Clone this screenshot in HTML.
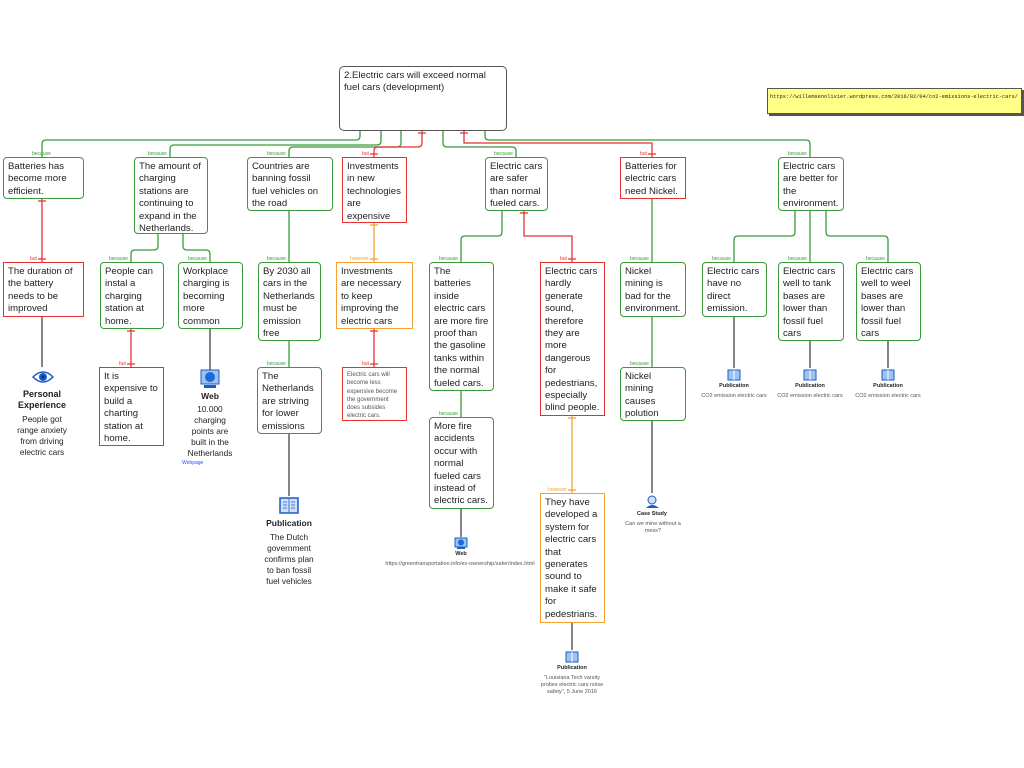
<!DOCTYPE html>
<html><head><meta charset="utf-8">
<style>
*{margin:0;padding:0;box-sizing:border-box}
body{width:1024px;height:768px;background:#fff;position:relative;overflow:hidden;font-family:"Liberation Sans",sans-serif;color:#222}
.b{position:absolute;background:#fff;font-size:9.6px;line-height:12.4px;padding:3px 4px;border:1.5px solid #3a9a3a;border-radius:4px}
.g{border-color:#3a9a3a}
.r{border-color:#e83030;border-radius:0}
.o{border-color:#f5a030;border-radius:0}
.lb{position:absolute;font-size:5px;line-height:6px}
.lg{color:#3a9a3a}.lr{color:#e83030}.lo{color:#f5a030}
.t{position:absolute;text-align:center;font-size:8.3px;line-height:11px;color:#222}
.tb{font-weight:bold}
.s{font-size:5.5px;line-height:7px;color:#555}
</style></head><body>
<svg width="1024" height="768" style="position:absolute;left:0;top:0" fill="none" stroke-width="1.3">
<g stroke="#3a9a3a">
<path d="M360 130 V136 Q360 140 356 140 H46 Q42 140 42 144 V157"/>
<path d="M381 130 V141 Q381 145 377 145 H174 Q170 145 170 149 V157"/>
<path d="M401 130 V143 Q401 147 397 147 H293 Q289 147 289 151 V157"/>
<path d="M443 130 V143 Q443 147 447 147 H512 Q516 147 516 151 V157"/>
<path d="M485 130 V136 Q485 140 489 140 H806 Q810 140 810 144 V157"/>
<path d="M158 233 V246 Q158 250 154 250 H135 Q131 250 131 254 V262"/>
<path d="M183 233 V246 Q183 250 187 250 H206 Q210 250 210 254 V262"/>
<path d="M289 210 V262"/>
<path d="M502 210 V232 Q502 236 498 236 H465 Q461 236 461 240 V262"/>
<path d="M652 198 V262"/>
<path d="M795 210 V232 Q795 236 791 236 H738 Q734 236 734 240 V262"/>
<path d="M810 210 V262"/>
<path d="M826 210 V232 Q826 236 830 236 H884 Q888 236 888 240 V262"/>
<path d="M289 340 V367"/>
<path d="M461 390 V417"/>
<path d="M652 316 V367"/>
</g>
<g stroke="#e83030">
<path d="M422 130 V143 Q422 147 418 147 H378 Q374 147 374 151 V157"/><path d="M418 133 H426 M370 154 H378"/>
<path d="M464 130 V143 H652 V157"/><path d="M460 133 H468 M648 154 H656"/>
<path d="M42 198 V262"/><path d="M38 201 H46 M38 259 H46"/>
<path d="M131 328 V367"/><path d="M127 331 H135 M127 364 H135"/>
<path d="M374 328 V367"/><path d="M370 331 H378 M370 364 H378"/>
<path d="M524 210 V236 H572 V262"/><path d="M520 213 H528 M568 259 H576"/>
</g>
<g stroke="#f5a030">
<path d="M374 222 V262"/><path d="M370 225 H378 M370 259 H378"/>
<path d="M572 415 V493"/><path d="M568 418 H576 M568 490 H576"/>
</g>
<g stroke="#444">
<path d="M42 316 V367 M210 328 V370 M289 433 V496 M461 508 V537 M572 622 V650 M652 420 V493 M734 316 V368 M810 340 V368 M888 340 V368"/>
</g>
</svg>

<div class="b" style="left:339px;top:66px;width:168px;height:65px;border:1.5px solid #555;border-radius:5px;padding:3px 4px">2.Electric cars will exceed normal fuel cars (development)</div>
<div style="position:absolute;left:767px;top:88px;width:255px;height:26px;background:#ffff88;border:1px solid #555;box-shadow:2px 2px 0 #555;font-family:'Liberation Mono',monospace;font-size:5.3px;white-space:nowrap;overflow:hidden;padding:5px 2px">https://willemsenolivier.wordpress.com/2016/02/04/co2-emissions-electric-cars/</div>

<div class="b g" style="left:3px;top:157px;width:81px;height:42px">Batteries has become more efficient.</div>
<div class="b g" style="left:134px;top:157px;width:74px;height:77px">The amount of charging stations are continuing to expand in the Netherlands.</div>
<div class="b g" style="left:247px;top:157px;width:86px;height:54px">Countries are banning fossil fuel vehicles on the road</div>
<div class="b r" style="left:342px;top:157px;width:65px;height:66px">Investments in new technologies are expensive</div>
<div class="b g" style="left:485px;top:157px;width:63px;height:54px">Electric cars are safer than normal fueled cars.</div>
<div class="b r" style="left:620px;top:157px;width:66px;height:42px">Batteries for electric cars need Nickel.</div>
<div class="b g" style="left:778px;top:157px;width:66px;height:54px">Electric cars are better for the environment.</div>

<div class="b r" style="left:3px;top:262px;width:81px;height:55px">The duration of the battery needs to be improved</div>
<div class="b g" style="left:100px;top:262px;width:64px;height:67px">People can instal a charging station at home.</div>
<div class="b g" style="left:178px;top:262px;width:65px;height:67px">Workplace charging is becoming more common</div>
<div class="b g" style="left:258px;top:262px;width:63px;height:79px">By 2030 all cars in the Netherlands must be emission free</div>
<div class="b o" style="left:336px;top:262px;width:77px;height:67px">Investments are necessary to keep improving the electric cars</div>
<div class="b g" style="left:429px;top:262px;width:65px;height:129px">The batteries inside electric cars are more fire proof than the gasoline tanks within the normal fueled cars.</div>
<div class="b r" style="left:540px;top:262px;width:65px;height:154px">Electric cars hardly generate sound, therefore they are more dangerous for pedestrians, especially blind people.</div>
<div class="b g" style="left:620px;top:262px;width:66px;height:55px">Nickel mining is bad for the environment.</div>
<div class="b g" style="left:702px;top:262px;width:65px;height:55px">Electric cars have no direct emission.</div>
<div class="b g" style="left:778px;top:262px;width:66px;height:79px">Electric cars well to tank bases are lower than fossil fuel cars</div>
<div class="b g" style="left:856px;top:262px;width:65px;height:79px">Electric cars well to weel bases are lower than fossil fuel cars</div>

<div class="b r" style="left:99px;top:367px;width:65px;height:79px">It is expensive to build a charting station at home.</div>
<div class="b g" style="left:257px;top:367px;width:65px;height:67px">The Netherlands are striving for lower emissions</div>
<div class="b r" style="left:342px;top:367px;width:65px;height:54px;font-size:6px;line-height:8.3px;color:#555">Electric cars will become less expensive become the government does subsides electric cars.</div>
<div class="b g" style="left:429px;top:417px;width:65px;height:92px">More fire accidents occur with normal fueled cars instead of electric cars.</div>
<div class="b g" style="left:620px;top:367px;width:66px;height:54px">Nickel mining causes polution</div>
<div class="b o" style="left:540px;top:493px;width:65px;height:130px">They have developed a system for electric cars that generates sound to make it safe for pedestrians.</div>

<div class="lb lg" style="left:32px;top:151px">because</div>
<div class="lb lg" style="left:148px;top:151px">because</div>
<div class="lb lg" style="left:267px;top:151px">because</div>
<div class="lb lr" style="left:362px;top:151px">but</div>
<div class="lb lg" style="left:494px;top:151px">because</div>
<div class="lb lr" style="left:640px;top:151px">but</div>
<div class="lb lg" style="left:788px;top:151px">because</div>
<div class="lb lr" style="left:30px;top:256px">but</div>
<div class="lb lg" style="left:109px;top:256px">because</div>
<div class="lb lg" style="left:188px;top:256px">because</div>
<div class="lb lg" style="left:267px;top:256px">because</div>
<div class="lb lo" style="left:350px;top:256px">however</div>
<div class="lb lg" style="left:439px;top:256px">because</div>
<div class="lb lr" style="left:560px;top:256px">but</div>
<div class="lb lg" style="left:630px;top:256px">because</div>
<div class="lb lg" style="left:712px;top:256px">because</div>
<div class="lb lg" style="left:788px;top:256px">because</div>
<div class="lb lg" style="left:866px;top:256px">because</div>
<div class="lb lr" style="left:119px;top:361px">but</div>
<div class="lb lg" style="left:267px;top:361px">because</div>
<div class="lb lr" style="left:362px;top:361px">but</div>
<div class="lb lg" style="left:439px;top:411px">because</div>
<div class="lb lg" style="left:630px;top:361px">because</div>
<div class="lb lo" style="left:548px;top:487px">however</div>

<svg style="position:absolute;left:32px;top:370px" width="22" height="14"><path d="M1 7 Q11 -3 21 7 Q11 17 1 7Z" fill="#fff" stroke="#1a5cc8" stroke-width="1.5"/><circle cx="11" cy="7" r="4" fill="#1a5cc8"/><circle cx="11" cy="7" r="1.5" fill="#0a2a70"/></svg>
<div class="t tb" style="left:2px;top:389px;width:80px;font-size:9px">Personal<br>Experience</div>
<div class="t" style="left:2px;top:414px;width:80px">People got<br>range anxiety<br>from driving<br>electric cars</div>

<svg style="position:absolute;left:200px;top:369px" width="20" height="20"><rect x="1" y="1" width="18" height="14" fill="#9cc3f0" stroke="#1a5cc8"/><circle cx="10" cy="8" r="5" fill="#1a6ad8"/><rect x="4" y="16" width="12" height="3" fill="#1a5cc8"/></svg>
<div class="t tb" style="left:180px;top:391px;width:60px;font-size:8.5px">Web</div>
<div class="t" style="left:180px;top:404px;width:60px">10.000<br>charging<br>points are<br>built in the<br>Netherlands</div>
<div class="lb" style="left:182px;top:460px;color:#3050f0">Webpage</div>

<svg style="position:absolute;left:279px;top:497px" width="20" height="17"><rect x="1" y="1" width="18" height="15" fill="#cfe0f8" stroke="#1a5cc8" stroke-width="1.5"/><path d="M10 2 V15 M4 5 H8 M4 8 H8 M4 11 H8 M12 5 H16 M12 8 H16 M12 11 H16" stroke="#1a5cc8" stroke-width="0.8"/></svg>
<div class="t tb" style="left:250px;top:518px;width:78px;font-size:8.5px">Publication</div>
<div class="t" style="left:250px;top:532px;width:78px">The Dutch<br>government<br>confirms plan<br>to ban fossil<br>fuel vehicles</div>

<svg style="position:absolute;left:454px;top:537px" width="14" height="13"><rect x="1" y="1" width="12" height="9" fill="#9cc3f0" stroke="#1a5cc8"/><circle cx="7" cy="5.5" r="3" fill="#1a6ad8"/><rect x="3" y="10" width="8" height="2" fill="#1a5cc8"/></svg>
<div class="t tb" style="left:430px;top:551px;width:62px;font-size:5.5px;line-height:7px">Web</div>
<div class="t s" style="left:360px;top:561px;width:200px">https://greentransportation.info/ev-ownership/safer/index.html</div>

<svg style="position:absolute;left:645px;top:495px" width="16" height="14"><circle cx="7" cy="5" r="4" fill="#cfe0f8" stroke="#1a5cc8"/><path d="M1 13 Q7 7 14 13Z" fill="#1a5cc8"/></svg>
<div class="t tb" style="left:620px;top:511px;width:64px;font-size:5.5px;line-height:7px">Case Study</div>
<div class="t s" style="left:618px;top:521px;width:70px">Can we mine without a mess?</div>

<svg style="position:absolute;left:565px;top:651px" width="14" height="12"><rect x="1" y="1" width="12" height="10" fill="#9cc3f0" stroke="#1a5cc8"/><path d="M7 1 V11" stroke="#fff"/></svg>
<div class="t tb" style="left:540px;top:665px;width:64px;font-size:5.5px;line-height:7px">Publication</div>
<div class="t s" style="left:538px;top:675px;width:68px">"Louisiana Tech varsity probes electric cars noise safety", 5 June 2016</div>

<svg style="position:absolute;left:727px;top:369px" width="14" height="12"><rect x="1" y="1" width="12" height="10" fill="#9cc3f0" stroke="#1a5cc8"/><path d="M7 1 V11" stroke="#fff"/></svg>
<div class="t tb" style="left:702px;top:383px;width:64px;font-size:5.5px;line-height:7px">Publication</div>
<div class="t s" style="left:700px;top:393px;width:68px">CO2 emission electric cars</div>
<svg style="position:absolute;left:803px;top:369px" width="14" height="12"><rect x="1" y="1" width="12" height="10" fill="#9cc3f0" stroke="#1a5cc8"/><path d="M7 1 V11" stroke="#fff"/></svg>
<div class="t tb" style="left:778px;top:383px;width:64px;font-size:5.5px;line-height:7px">Publication</div>
<div class="t s" style="left:776px;top:393px;width:68px">CO2 emission electric cars</div>
<svg style="position:absolute;left:881px;top:369px" width="14" height="12"><rect x="1" y="1" width="12" height="10" fill="#9cc3f0" stroke="#1a5cc8"/><path d="M7 1 V11" stroke="#fff"/></svg>
<div class="t tb" style="left:856px;top:383px;width:64px;font-size:5.5px;line-height:7px">Publication</div>
<div class="t s" style="left:854px;top:393px;width:68px">CO2 emission electric cars</div>
</body></html>
